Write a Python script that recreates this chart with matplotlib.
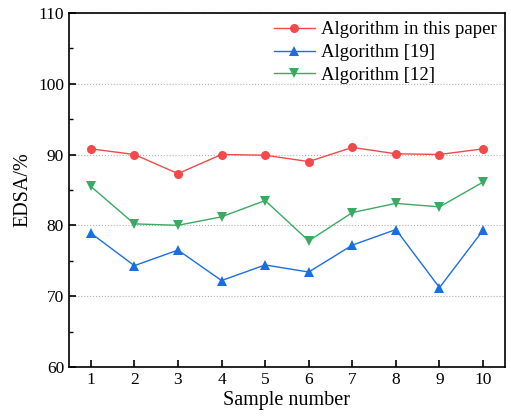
import matplotlib.pyplot as plt
import numpy as np
from matplotlib.ticker import MultipleLocator

plt.rcParams['font.family'] = ['Liberation Serif', 'DejaVu Serif']

# data
samples = np.arange(1, 11)
ours = [90.8, 90.0, 87.3, 90.0, 89.9, 89.0, 91.0, 90.1, 90.0, 90.8]
alg19 = [78.9, 74.3, 76.5, 72.2, 74.4, 73.4, 77.2, 79.4, 71.2, 79.3]
alg12 = [85.5, 80.2, 80.0, 81.2, 83.5, 77.8, 81.8, 83.1, 82.6, 86.1]

fig = plt.figure(figsize=(5.11, 4.16), dpi=100)
ax = fig.add_axes([0.135, 0.118, 0.853, 0.851])

ax.plot(samples, ours, color='#f24a4a', marker='o', markersize=6.5, lw=1,
        markeredgewidth=0, label='Algorithm in this paper')
ax.plot(samples, alg19, color='#1a6fe0', marker='^', markersize=7.5, lw=1,
        markeredgewidth=0, label='Algorithm [19]')
ax.plot(samples, alg12, color='#3aaa62', marker='v', markersize=7.5, lw=1,
        markeredgewidth=0, label='Algorithm [12]')

ax.set_xlim(0.5, 10.5)
ax.set_ylim(60, 110)
ax.set_xticks(samples)
ax.yaxis.set_major_locator(MultipleLocator(10))
ax.yaxis.set_minor_locator(MultipleLocator(5))
ax.tick_params(direction='in', labelsize=12.5, width=1.2, length=5)
ax.tick_params(which='minor', direction='in', width=1, length=3)
ax.grid(axis='y', linestyle=':', color='#b0b0b0', lw=0.8)
for s in ax.spines.values():
    s.set_linewidth(1.2)

ax.set_xlabel('Sample number', fontsize=14.5, labelpad=2)
ax.set_ylabel('EDSA/%', fontsize=14.5)
ax.legend(loc='upper right', frameon=False, fontsize=13.5, handlelength=2.2,
          borderaxespad=0.05, labelspacing=0.3, handletextpad=0.3)

fig.savefig('out.png', dpi=100)
